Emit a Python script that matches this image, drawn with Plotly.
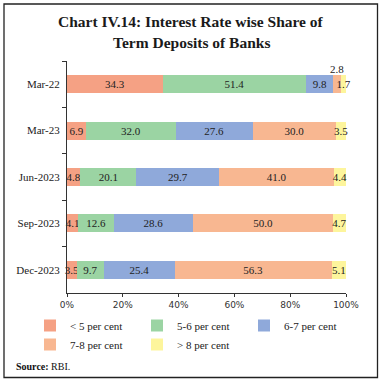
import plotly.graph_objects as go

categories = ["Mar-22", "Mar-23", "Jun-2023", "Sep-2023", "Dec-2023"]
series_names = ["< 5 per cent", "5-6 per cent", "6-7 per cent", "7-8 per cent", "> 8 per cent"]
lt5 = [34.3, 6.9, 4.8, 4.1, 3.5]
s5_6 = [51.4, 32.0, 20.1, 12.6, 9.7]
s6_7 = [9.8, 27.6, 29.7, 28.6, 25.4]
s7_8 = [2.8, 30.0, 41.0, 50.0, 56.3]
gt8 = [1.7, 3.5, 4.4, 4.7, 5.1]
colors = ["#F5A184", "#9BD4A3", "#8FA9DA", "#F8B791", "#FDF59C"]
tick_vals = [0, 20, 40, 60, 80, 100]
tick_text = ["0%", "20%", "40%", "60%", "80%", "100%"]

W, H = 384, 384
ml, mr, mt, mb = 67, 38, 61, 91
pw, ph = W - ml - mr, H - mt - mb

FONT = "Liberation Serif"
fig = go.Figure()
all_series = [lt5, s5_6, s6_7, s7_8, gt8]
for name, vals, col in zip(series_names, all_series, colors):
    texts = [f"{v:.1f}" for v in vals]
    if vals is s7_8:
        texts[0] = ""  # 2.8 drawn above the bar
    fig.add_trace(go.Bar(
        y=categories, x=vals, name=name, orientation="h",
        marker=dict(color=col, line=dict(width=0)),
        text=texts, textposition="inside", insidetextanchor="middle", textangle=0,
        textfont=dict(family=FONT, size=11, color="#222222"),
        width=0.39, cliponaxis=False,
    ))

# label for the small 7-8 segment of Mar-22, placed above the bar
x_small = lt5[0] + s5_6[0] + s6_7[0] + s7_8[0] / 2
fig.add_annotation(x=x_small, y=categories[0], text=f"{s7_8[0]:.1f}", showarrow=False,
                   yshift=15, font=dict(family=FONT, size=11, color="#222222"))

def px(x):
    return (x - ml) / pw

def py(y):
    return (H - mb - y) / ph

fig.add_annotation(xref="paper", yref="paper", x=px(14), y=py(366), xanchor="left", yanchor="middle",
                   text="<b>Source:</b> RBI.", showarrow=False,
                   font=dict(family=FONT, size=10, color="#111111"))
fig.add_annotation(xref="paper", yref="paper", x=0.5 * (px(4) + px(378)), y=py(22), xanchor="center",
                   yanchor="middle", text="<b>Chart IV.14: Interest Rate wise Share of</b>", showarrow=False,
                   font=dict(family=FONT, size=15.5, color="#1a1a1a"))
fig.add_annotation(xref="paper", yref="paper", x=0.5 * (px(4) + px(378)), y=py(42), xanchor="center",
                   yanchor="middle", text="<b>Term Deposits of Banks</b>", showarrow=False,
                   font=dict(family=FONT, size=15.5, color="#1a1a1a"))
fig.add_shape(type="rect", xref="paper", yref="paper", x0=px(4), x1=px(377.5), y0=py(4), y1=py(377.5),
              line=dict(color="#222222", width=1.3))

fig.update_layout(
    width=W, height=H, barmode="stack",
    margin=dict(l=ml, r=mr, t=mt, b=mb, autoexpand=False),
    paper_bgcolor="white", plot_bgcolor="white",
    font=dict(family=FONT, size=11, color="#222222"),
    uniformtext=dict(minsize=11, mode="show"),
    showlegend=True,
    legend=dict(orientation="h", x=px(30), y=py(311), xanchor="left", yanchor="top",
                entrywidth=62, entrywidthmode="pixels", traceorder="normal",
                font=dict(family=FONT, size=11), itemwidth=30, tracegroupgap=0,
                bgcolor="rgba(0,0,0,0)"),
    xaxis=dict(range=[0, 100], tickvals=tick_vals, ticktext=tick_text, showgrid=False,
               showline=True, linecolor="#333333", linewidth=1.2, ticks="outside", ticklen=3,
               tickcolor="#333333", tickfont=dict(family="DejaVu Sans", size=9, color="#333333"),
               zeroline=False, fixedrange=True, automargin=False),
    yaxis=dict(autorange="reversed", showline=True, linecolor="#333333", linewidth=1.2,
               ticks="outside", ticklen=4, tickson="boundaries", tickcolor="#333333",
               showgrid=False, tickfont=dict(family=FONT, size=11, color="#222222"),
               ticklabelstandoff=4, automargin=False),
)
fig.write_html("out.html", config={"displayModeBar": False},
               post_script="document.body.style.margin='0';document.body.style.overflow='hidden';")
